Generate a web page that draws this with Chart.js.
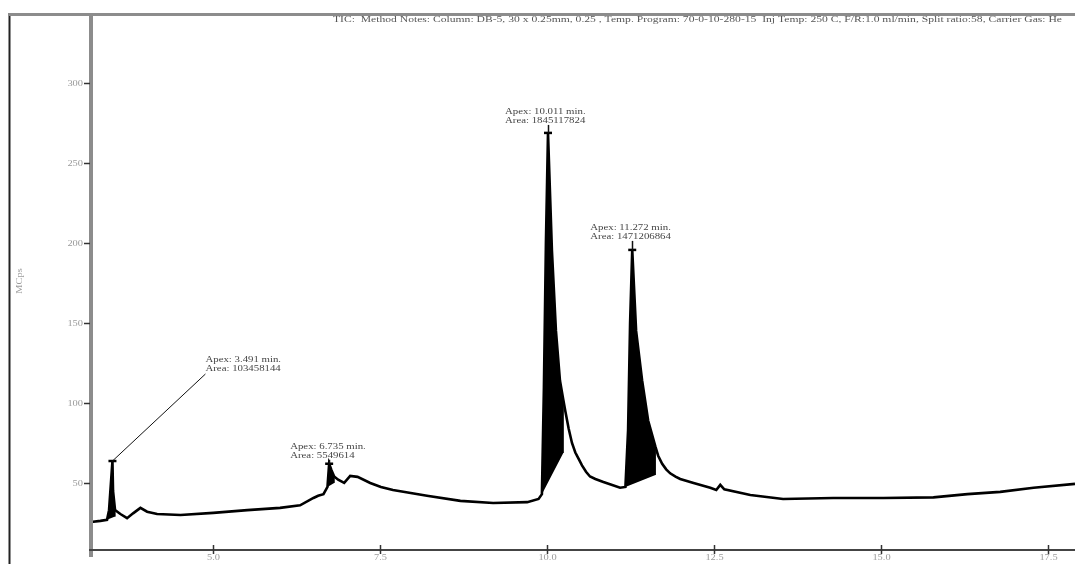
<!DOCTYPE html>
<html>
<head>
<meta charset="utf-8">
<title>TIC chromatogram</title>
<script src="https://cdn.jsdelivr.net/npm/chart.js@4.4.0/dist/chart.umd.min.js"></script>
<style>
  html, body { margin: 0; padding: 0; background: #ffffff; }
  #chart { display: block; background: #ffffff; }
</style>
</head>
<body>
<canvas id="chart" width="1075" height="564"></canvas>
<script>
// RETENTION TIME (min) AND SIGNAL (MCps) //
const times = [
  3.17, 3.31, 3.41, 3.44, 3.491, 3.50, 3.53, 3.61, 3.71, 3.80, 3.91, 4.01, 4.16, 4.51,
  5.00, 5.51, 6.00, 6.30, 6.50, 6.57, 6.65, 6.71, 6.735, 6.77, 6.81, 6.87, 6.96, 7.05,
  7.16, 7.35, 7.51, 7.69, 8.20, 8.70, 9.19, 9.70, 9.87, 9.92, 9.95, 9.98, 10.011, 10.07,
  10.13, 10.19, 10.24, 10.27, 10.32, 10.37, 10.42, 10.47, 10.52, 10.58, 10.64, 10.72, 10.84,
  10.95, 11.09, 11.17, 11.21, 11.24, 11.272, 11.33, 11.42, 11.51, 11.62, 11.66, 11.72, 11.78,
  11.84, 11.92, 11.99, 12.19, 12.44, 12.53, 12.59, 12.65, 13.04, 13.53, 14.28, 15.03, 15.78,
  16.29, 16.78, 17.28, 17.90
];
const signal = [
  25.6, 26.3, 27, 33, 63.7, 45, 33, 30.6, 28, 31, 34.4, 32, 30.6, 30,
  31.3, 33, 34.4, 36, 40.6, 42, 43, 47.5, 62, 58, 54, 52, 50, 54.4,
  53.8, 50, 47.5, 45.6, 42, 38.8, 37.5, 38, 40, 43, 110, 200, 268.7, 195,
  145, 114, 102, 95, 84, 75, 69, 65, 61, 57, 54, 52.5, 50.6,
  49, 47, 47.5, 83, 150, 195.6, 145, 114, 89, 72.5, 67, 62, 58.5,
  56, 54, 52.5, 50, 47, 45.6, 48.8, 46, 42.5, 40, 40.6, 40.6, 41,
  43, 44.4, 47, 49.4
];

// PEAKS //
const apexTimes = [3.491, 6.735, 10.011, 11.272];
const apexValues = [63.7, 62, 268.7, 195.6];
const apexAreas = ['103458144', '5549614', '1845117824', '1471206864'];
const peakStart = [3.41, 6.71, 9.92, 11.17];
const peakEnd = [3.53, 6.81, 10.24, 11.62];
const peakBaseEnd = [29, 50, 68.7, 55];

// AXES //
const xTicks = [5.0, 7.5, 10.0, 12.5, 15.0, 17.5];
const xTickLabels = ['5.0', '7.5', '10.0', '12.5', '15.0', '17.5'];
const yTicks = [50, 100, 150, 200, 250, 300];
const yTickLabels = ['50', '100', '150', '200', '250', '300'];
const yTitle = 'MCps';
const headerText = 'TIC:  Method Notes: Column: DB-5, 30 x 0.25mm, 0.25 , Temp. Program: 70-0-10-280-15  Inj Temp: 250 C, F/R:1.0 ml/min, Split ratio:58, Carrier Gas: He';

const FONT = '"Liberation Serif", "DejaVu Serif", serif';

/**
 * draws text, optionally stretched horizontally to a given width
 */
function drawText(ctx, text, x, y, {size = 9, color = '#555', align = 'left', sx = 1, width = null} = {}) {
  ctx.save();
  ctx.font = `${ size }px ${ FONT }`;
  ctx.fillStyle = color;
  ctx.textBaseline = 'middle';
  ctx.textAlign = 'left';
  const w = ctx.measureText(text).width;
  const scaleX = width ? (width / w) : sx;
  let x0 = x;
  if (align === 'right') { x0 = x - w * scaleX; }
  else if (align === 'center') { x0 = x - w * scaleX / 2; }
  ctx.translate(x0, y);
  ctx.scale(scaleX, 1);
  ctx.fillText(text, 0, 0);
  ctx.restore();
}

function line(ctx, x1, y1, x2, y2, color, width) {
  ctx.save();
  ctx.strokeStyle = color;
  ctx.lineWidth = width;
  ctx.beginPath();
  ctx.moveTo(x1, y1);
  ctx.lineTo(x2, y2);
  ctx.stroke();
  ctx.restore();
}

// PEAK FILL SHAPES - trace points inside [start,end] closed by the integration baseline //
const peakFillDatasets = peakStart.map((start, idx) => {
  const pts = [];
  times.forEach((t, i) => {
    if (t >= start && t <= peakEnd[idx]) { pts.push({x: t, y: signal[i]}); }
  });
  pts.push({x: peakEnd[idx], y: peakBaseEnd[idx]});
  return {
    data: pts,
    showLine: true,
    fill: 'shape',
    backgroundColor: '#000000',
    borderColor: '#000000',
    borderWidth: 0.5,
    pointRadius: 0,
    tension: 0
  };
});

// label placement relative to the apex pixel //
const LABELS = [
  {dx: 93, dy: -101, leader: true},
  {dx: -39, dy: -17},
  {dx: -43, dy: -21},
  {dx: -42, dy: -22}
];

const chromDecor = {
  id: 'chromDecor',
  afterDraw(chart) {
    const {ctx, scales: {x, y}} = chart;

    // FRAME //
    line(ctx, 9.5, 13, 9.5, 564, '#222222', 2);
    line(ctx, 8, 14.5, 1075, 14.5, '#8c8c8c', 3);
    line(ctx, 91, 13, 91, 557, '#8c8c8c', 4);
    line(ctx, 89, 550, 1075, 550, '#444444', 2);

    // Y TICKS //
    yTicks.forEach((v, i) => {
      const py = Math.round(y.getPixelForValue(v)) + 0.5;
      line(ctx, 84, py, 90, py, '#333333', 1.5);
      drawText(ctx, yTickLabels[i], 83, py, {size: 8, color: '#9a9a9a', align: 'right', sx: 1.3});
    });

    // X TICKS //
    xTicks.forEach((t, i) => {
      const px = Math.round(x.getPixelForValue(t)) + 0.5;
      line(ctx, px, 545, px, 554, '#333333', 1.5);
      drawText(ctx, xTickLabels[i], px, 558, {size: 8, color: '#9a9a9a', align: 'center', sx: 1.3});
    });

    // Y TITLE //
    ctx.save();
    ctx.translate(20, 281);
    ctx.rotate(-Math.PI / 2);
    drawText(ctx, yTitle, 0, 0, {size: 8, color: '#9a9a9a', align: 'center', sx: 1.3});
    ctx.restore();

    // HEADER //
    drawText(ctx, headerText, 1062, 20, {size: 8, color: '#555555', align: 'right', width: 729});

    // APEX LABELS //
    apexTimes.forEach((t, i) => {
      const px = x.getPixelForValue(t);
      const py = y.getPixelForValue(apexValues[i]);
      const lab = LABELS[i];
      const lx = px + lab.dx;
      const ly = py + lab.dy;
      if (lab.leader) {
        line(ctx, px, py, lx, ly + 14, '#111111', 1);
      } else {
        line(ctx, Math.round(px) + 0.5, ly + 13, Math.round(px) + 0.5, py, '#111111', 1.5);
      }
      drawText(ctx, `Apex: ${ t.toFixed(3) } min.`, lx, ly, {size: 9, color: '#444444', sx: 1.2});
      drawText(ctx, `Area: ${ apexAreas[i] }`, lx, ly + 9, {size: 9, color: '#444444', sx: 1.2});
    });
  }
};

new Chart(document.getElementById('chart'), {
  type: 'scatter',
  data: {
    datasets: [
      {
        data: times.map((t, i) => ({x: t, y: signal[i]})),
        showLine: true,
        fill: false,
        borderColor: '#000000',
        borderWidth: 2.6,
        pointRadius: 0,
        tension: 0
      },
      ...peakFillDatasets,
      {
        data: apexTimes.map((t, i) => ({x: t, y: apexValues[i]})),
        showLine: false,
        pointStyle: 'line',
        pointRadius: 4,
        borderColor: '#000000',
        borderWidth: 2.5
      }
    ]
  },
  options: {
    responsive: false,
    devicePixelRatio: 1,
    animation: false,
    layout: {autoPadding: false, padding: {left: 91, top: 14, right: 0, bottom: 14}},
    scales: {
      x: {type: 'linear', min: 3.17, max: 17.9, display: false},
      y: {type: 'linear', min: 8.1, max: 343, display: false}
    },
    plugins: {
      legend: {display: false},
      title: {display: false},
      tooltip: {enabled: false}
    }
  },
  plugins: [chromDecor]
});
</script>
</body>
</html>
